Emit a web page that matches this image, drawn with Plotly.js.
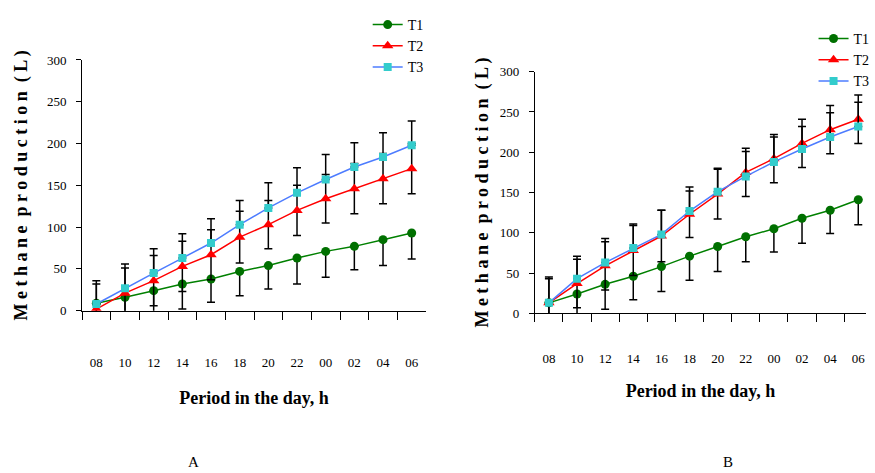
<!DOCTYPE html>
<html>
<head>
<meta charset="utf-8">
<script src="https://cdn.plot.ly/plotly-3.0.1.min.js"></script>
<style>html,body{margin:0;padding:0;background:#fff;} #chart{width:875px;height:473px;}</style>
</head>
<body>
<div id="chart"></div>
<script>
// Period of the day (h)
const hours = ['08','10','12','14','16','18','20','22','00','02','04','06'];
const seriesNames = ['T1','T2','T3'];

// Panel A
const A_T1 = [9,16,24,32,38,47,54,63,71,77,85,93];
const A_T2 = [2,21,36,53,67,88,103,120,134,146,158,170];
const A_T3 = [8,27,45,63,81,103,123,141,157,172,184,198];
const A_T1_err = [30,30,30,30,28,29,28,31,31,28,31,31];
const A_T2_err = [30,30,30,30,30,31,29,30,29,30,30,30];
const A_T3_err = [28,29,29,29,29,29,30,30,30,29,29,29];

// Panel B
const B_T1 = [13,24,36,46,58,71,83,95,105,118,128,141];
const B_T2 = [13,37,59,78,96,123,148,175,192,211,228,241];
const B_T3 = [13,43,63,81,98,127,151,170,188,204,219,232];
const B_T1_err = [30,28,31,29,31,30,31,31,29,31,29,31];
const B_T2_err = [30,30,30,31,32,29,31,30,30,30,30,30];
const B_T3_err = [32,28,30,30,30,30,29,31,31,28,30,30];

const zeros = hours.map(() => 0);
const FONT = '"Liberation Serif", "Times New Roman", Times, serif';
const styles = {
  T1: {line: {color: '#008000', width: 1.5}, marker: {symbol: 'circle', size: 9, color: '#007000'}},
  T2: {line: {color: '#ff0000', width: 1.5}, marker: {symbol: 'triangle-up', size: 10, color: '#ff0000'}},
  T3: {line: {color: '#4d7cff', width: 1.5}, marker: {symbol: 'square', size: 8, color: '#33cccc'}}
};
function errMinus(arr){ return {type:'data', symmetric:false, array:zeros, arrayminus:arr, color:'#000', thickness:1.5, width:4}; }
function errPlus(arr){ return {type:'data', symmetric:false, array:arr, arrayminus:zeros, color:'#000', thickness:1.5, width:4}; }
function errBoth(arr){ return {type:'data', symmetric:true, array:arr, color:'#000', thickness:1.5, width:4}; }

function tr(name, y, err, xa, ya, leg){
  return Object.assign({type:'scatter', mode:'lines+markers', name:name, x:hours, y:y, error_y:err,
    xaxis:xa, yaxis:ya, legend:leg, cliponaxis:true}, styles[name]);
}

const data = [
  tr('T1', A_T1, errMinus(A_T1_err), 'x', 'y', 'legend'),
  tr('T2', A_T2, errBoth(A_T2_err), 'x', 'y', 'legend'),
  tr('T3', A_T3, errPlus(A_T3_err), 'x', 'y', 'legend'),
  tr('T1', B_T1, errMinus(B_T1_err), 'x2', 'y2', 'legend2'),
  tr('T2', B_T2, errBoth(B_T2_err), 'x2', 'y2', 'legend2'),
  tr('T3', B_T3, errPlus(B_T3_err), 'x2', 'y2', 'legend2')
];

const yTitle = 'M e t h a n e  p r o d u c t i o n  ( L )';
const xTitle = 'Period in the day, h';

function xaxis(domain, range, labStand, titleStand){
  return {type:'category', domain:domain, range:range, showgrid:false, zeroline:false,
    showline:true, linecolor:'#000', linewidth:1, ticks:'outside', tickson:'boundaries',
    ticklen:8, tickcolor:'#000', tickwidth:1, ticklabelstandoff:labStand,
    tickfont:{family:FONT, size:13, color:'#000'},
    title:{text:xTitle, font:{family:FONT, size:18, color:'#000', weight:'bold'}, standoff:titleStand}};
}
function yaxis(domain, titleStand){
  return {domain:domain, range:[0,300], dtick:50, showgrid:false, zeroline:false,
    showline:true, linecolor:'#000', linewidth:1, ticks:'outside', ticklen:5, tickcolor:'#000',
    ticklabelstandoff:7, tickfont:{family:FONT, size:13, color:'#000'},
    title:{text:yTitle, font:{family:FONT, size:18, color:'#000', weight:'bold'}, standoff:titleStand}};
}

const layout = {
  width:875, height:473, autosize:false,
  margin:{l:82, r:0, t:0, b:0},
  paper_bgcolor:'#fff', plot_bgcolor:'#fff',
  font:{family:FONT, color:'#000'},
  xaxis: xaxis([0, 0.4388], [-0.5, 11.5], 40, 22),
  yaxis: Object.assign(yaxis([0.3431, 0.8732], 14), {anchor:'x'}),
  xaxis2: Object.assign(xaxis([0.5776, 1], [-0.5, 11.275], 33, 19), {anchor:'y2'}),
  yaxis2: Object.assign(yaxis([0.3376, 0.8484], 6), {anchor:'x2'}),
  legend:{x:0.3644, xanchor:'left', y:0.9810, yanchor:'top', bgcolor:'rgba(0,0,0,0)',
    font:{family:FONT, size:14, color:'#000'}, tracegroupgap:0},
  legend2:{x:0.9331, xanchor:'left', y:0.9515, yanchor:'top', bgcolor:'rgba(0,0,0,0)',
    font:{family:FONT, size:14, color:'#000'}, tracegroupgap:0},
  annotations:[
    {text:'A', xref:'paper', yref:'paper', x:(195-82)/793, y:1-462/473, showarrow:false,
      xanchor:'center', yanchor:'middle', font:{family:FONT, size:15, color:'#000'}},
    {text:'B', xref:'paper', yref:'paper', x:(735-82)/793, y:1-462/473, showarrow:false,
      xanchor:'center', yanchor:'middle', font:{family:FONT, size:15, color:'#000'}}
  ]
};

Plotly.newPlot('chart', data, layout, {displayModeBar:false, staticPlot:true});
</script>
</body>
</html>
